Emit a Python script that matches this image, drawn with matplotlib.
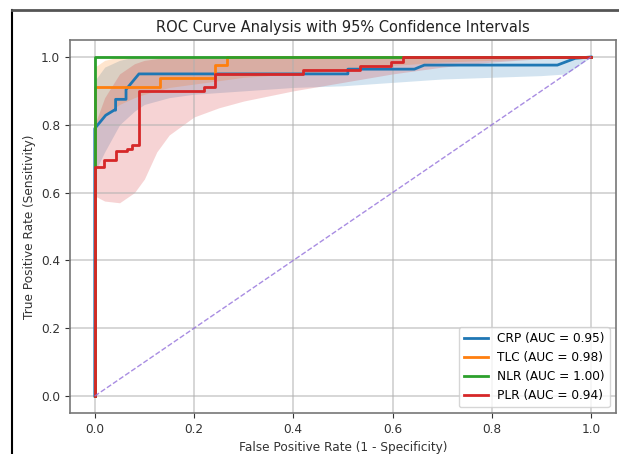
import matplotlib
matplotlib.use("Agg")
import matplotlib.pyplot as plt
from matplotlib.lines import Line2D

# ROC step curves
crp_fpr = [0, 0, 0.022, 0.039, 0.042, 0.042, 0.063, 0.063, 0.089, 0.51, 0.51, 0.644, 0.664, 0.932, 0.968, 1.0]
crp_tpr = [0, 0.789, 0.828, 0.843, 0.843, 0.875, 0.875, 0.904, 0.950, 0.950, 0.964, 0.964, 0.976, 0.976, 0.996, 1.0]

tlc_fpr = [0, 0, 0.131, 0.131, 0.242, 0.242, 0.266, 0.266, 1.0]
tlc_tpr = [0, 0.912, 0.912, 0.937, 0.937, 0.976, 0.976, 1.0, 1.0]

nlr_fpr = [0, 0, 1.0]
nlr_tpr = [0, 1.0, 1.0]

plr_fpr = [0, 0, 0.019, 0.019, 0.042, 0.042, 0.064, 0.064, 0.075, 0.075, 0.089, 0.089,
           0.22, 0.22, 0.242, 0.242, 0.42, 0.42, 0.534, 0.534, 0.597, 0.597, 0.621, 0.621, 1.0]
plr_tpr = [0, 0.675, 0.675, 0.697, 0.697, 0.723, 0.723, 0.730, 0.730, 0.740, 0.740, 0.900,
           0.900, 0.912, 0.912, 0.950, 0.950, 0.962, 0.962, 0.973, 0.973, 0.986, 0.986, 1.0, 1.0]

# 95% confidence bands on a common FPR grid
band_fpr = [0, 0.02, 0.05, 0.08, 0.1, 0.125, 0.15, 0.2, 0.25, 0.3, 0.4, 0.5, 0.6, 0.7, 0.8, 0.9, 0.95, 1.0]
crp_lo = [0.66, 0.72, 0.80, 0.84, 0.86, 0.87, 0.88, 0.89, 0.895, 0.90, 0.91, 0.915, 0.925, 0.935, 0.94, 0.945, 0.95, 1.0]
crp_hi = [0.93, 0.97, 0.99, 1.0, 1.0, 1.0, 1.0, 1.0, 1.0, 1.0, 1.0, 1.0, 1.0, 1.0, 1.0, 1.0, 1.0, 1.0]
tlc_lo = [0.80, 0.83, 0.86, 0.88, 0.89, 0.90, 0.91, 0.92, 0.93, 0.94, 0.95, 0.96, 0.975, 0.985, 0.99, 0.995, 1.0, 1.0]
tlc_hi = [0.97, 0.99, 1.0, 1.0, 1.0, 1.0, 1.0, 1.0, 1.0, 1.0, 1.0, 1.0, 1.0, 1.0, 1.0, 1.0, 1.0, 1.0]
nlr_lo = [1.0] * 18
nlr_hi = [1.0] * 18
plr_lo = [0.59, 0.575, 0.57, 0.60, 0.64, 0.72, 0.77, 0.823, 0.85, 0.87, 0.90, 0.925, 0.95, 0.97, 0.985, 0.995, 1.0, 1.0]
plr_hi = [0.80, 0.88, 0.95, 0.98, 0.99, 0.995, 1.0, 1.0, 1.0, 1.0, 1.0, 1.0, 1.0, 1.0, 1.0, 1.0, 1.0, 1.0]

names = ["CRP", "TLC", "NLR", "PLR"]
aucs = [0.95, 0.98, 1.00, 0.94]
colors = ["#1f77b4", "#ff7f0e", "#2ca02c", "#d62728"]

curves = [(crp_fpr, crp_tpr), (tlc_fpr, tlc_tpr), (nlr_fpr, nlr_tpr), (plr_fpr, plr_tpr)]
bands = [(crp_lo, crp_hi), (tlc_lo, tlc_hi), (nlr_lo, nlr_hi), (plr_lo, plr_hi)]

fig = plt.figure(figsize=(6.19, 4.54), dpi=100)
ax = fig.add_axes([0.113, 0.0903, 0.882, 0.8216])

for (lo, hi), c in zip(bands, colors):
    ax.fill_between(band_fpr, lo, hi, color=c, alpha=0.2, linewidth=0)

for name, auc, (fpr, tpr), c in zip(names, aucs, curves, colors):
    ax.plot(fpr, tpr, color=c, lw=2, label=f"{name} (AUC = {auc:.2f})")

ax.plot([0, 1], [0, 1], linestyle="--", color="mediumpurple", lw=1, alpha=0.8)

ax.set_xlim(-0.05, 1.05)
ax.set_ylim(-0.05, 1.05)
ax.set_xticks([0, 0.2, 0.4, 0.6, 0.8, 1.0])
ax.set_yticks([0, 0.2, 0.4, 0.6, 0.8, 1.0])
ax.tick_params(labelsize=8.7, colors="#333333")
ax.grid(True, color="#b0b0b0", alpha=0.65, lw=1.1)
for s in ax.spines.values():
    s.set_color("#777777")
    s.set_linewidth(1.2)

ax.set_xlabel("False Positive Rate (1 - Specificity)", fontsize=8.7, color="#333333")
ax.set_ylabel("True Positive Rate (Sensitivity)", fontsize=8.7, color="#333333")
ax.set_title("ROC Curve Analysis with 95% Confidence Intervals", fontsize=10.5, color="#222222")
ax.legend(loc="lower right", fontsize=8.7)

# screenshot frame
fig.add_artist(Line2D([12 / 619, 12 / 619], [0, 1 - 10 / 454], transform=fig.transFigure, color="black", lw=1.5))
fig.add_artist(Line2D([12 / 619, 1], [1 - 10 / 454, 1 - 10 / 454], transform=fig.transFigure, color="#555555", lw=2))

fig.savefig("out.png", dpi=100)
